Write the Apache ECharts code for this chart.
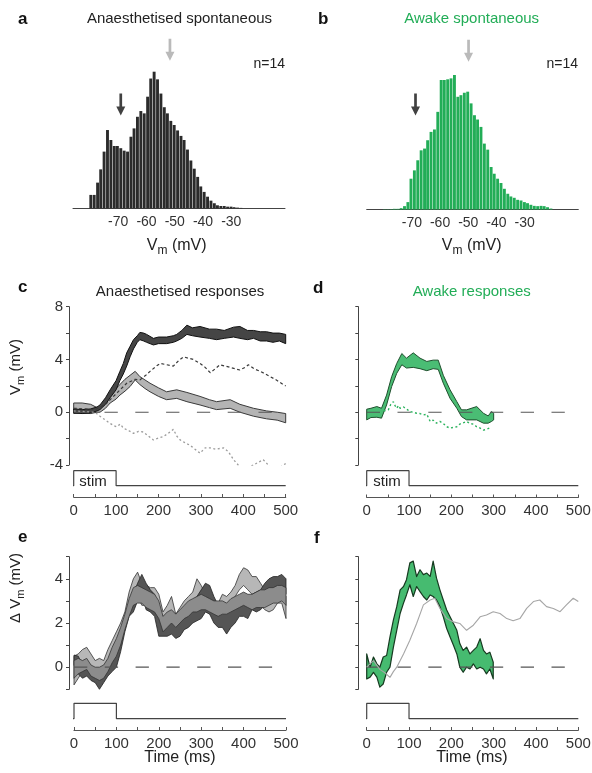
<!DOCTYPE html>
<html><head><meta charset="utf-8">
<script src="https://cdn.jsdelivr.net/npm/echarts@6/dist/echarts.min.js"></script>
<style>html,body{margin:0;padding:0;background:#fff}#c{width:592px;height:773px}</style>
</head><body><div id="c"></div>
<script>
// ---------- DATA ----------
const binsMV = [-79.7,-78.5,-77.3,-76.2,-75.0,-73.8,-72.6,-71.4,-70.3,-69.1,-67.9,-66.7,-65.5,-64.4,-63.2,-62.0,-60.8,-59.6,-58.5,-57.3,-56.1,-54.9,-53.7,-52.6,-51.4,-50.2,-49.0,-47.8,-46.7,-45.5,-44.3,-43.1,-41.9,-40.8,-39.6,-38.4,-37.2,-36.0,-34.9,-33.7,-32.5,-31.3,-30.1,-29.0,-27.8,-26.6,-25.4,-24.2,-23.1,-21.9,-20.7];
const histA = [9.8,9.8,18.8,28.5,41.5,57.3,50,45.6,45.6,44,42.2,41.5,52.4,58.5,67,71.2,69.5,81.7,95,100,94.4,84,74,69.5,64,61,57,53,50,43,35,29,23,16,12,8.5,5.6,3.7,2.2,1.7,1.7,1.2,1.2,0.8,0.5,0.3,0,0,0,0,0];
const histB = [0.2,0.2,0.3,0.5,0.5,1,2.5,5.5,22.9,29.1,36.6,44,45.3,51.5,57.7,59.5,72.6,96.3,96.3,96.8,97.5,100,83.8,85,86.8,87.6,78.9,70.1,66.9,61.4,49,44.5,31.6,26.6,22.9,19.7,15.4,11.7,9.7,8.7,7.2,6.7,5.5,4.7,3.5,2.7,2.5,2.7,2.5,1.7,0.7];
const hTicks = [-70,-60,-50,-40,-30];
const arrowsA = [-69.1, -51.7];   // black, grey
const arrowsB = [-68.7, -49.9];

const timeTicks = [0,100,200,300,400,500];
const stimT = [-17,0,0,100,100,500];
const stimV = [0,0,1,1,0,0];
const zeroT = [0,500];
const zeroV = [0,0];

// c: anaesthetised responses
const cDarkT  = [0,20,40,55,62,75,86,100,109,117,125,133,141,150,156,165,172,188,200,219,235,243,255,267,280,298,320,337,355,377,392,410,424,440,455,470,485,500];
const cDarkLo = [-0.05,-0.1,-0.05,0.1,0.2,0.6,1.1,1.7,2.4,2.9,3.5,4.2,4.8,5.3,5.5,5.4,5.3,5.1,5.2,5.2,5.3,5.4,5.6,5.9,5.8,5.7,5.6,5.5,5.6,5.7,5.6,5.5,5.6,5.4,5.4,5.3,5.4,5.2];
const cDarkUp = [0.25,0.2,0.25,0.4,0.55,1.1,1.7,2.4,3.1,3.7,4.5,5.0,5.5,5.8,6.05,6.0,5.9,5.6,5.7,5.7,5.8,5.9,6.2,6.6,6.4,6.5,6.3,6.3,6.2,6.45,6.5,6.2,6.2,6.1,6.1,6.0,6.0,5.9];
const cLightT  = [0,20,40,55,62,75,86,100,109,121,133,145,156,168,180,200,219,243,267,298,320,337,369,392,424,455,480,500];
const cLightLo = [-0.1,-0.05,-0.1,0,0,0.3,0.7,1.0,1.3,1.6,1.95,2.45,2.1,1.8,1.55,1.2,0.95,1.05,0.8,0.55,0.35,0.2,0.3,0,-0.3,-0.5,-0.6,-0.8];
const cLightUp = [0.7,0.7,0.6,0.35,0.3,0.8,1.3,1.8,2.1,2.5,2.8,3.1,2.7,2.45,2.2,1.85,1.55,1.7,1.5,1.2,0.95,0.8,0.95,0.6,0.3,0.1,0,-0.1];
const cDashT = [0,50,75,100,125,145,156,170,180,195,204,219,235,247,259,270,282,298,310,322,334,345,357,369,380,392,404,412,425,440,452,463,475,485,494,500];
const cDashV = [0.3,0.2,0.6,1.4,2.2,2.5,2.45,2.8,3.1,3.5,3.7,3.6,3.5,3.9,4.2,4.1,4.0,3.7,3.4,3.0,3.3,3.6,3.5,3.4,3.3,3.2,3.4,3.6,3.3,3.1,2.9,2.7,2.5,2.3,2.1,2.0];
const cDotT = [0,50,62,75,86,94,101,110,117,130,141,153,164,176,188,200,211,223,235,243,251,262,274,286,298,310,322,335,353,365,377,388,400,412,424,435,447,459,471,482,494,500];
const cDotV = [0.1,0,-0.3,-0.6,-0.85,-1,-1.1,-0.9,-1.2,-1.4,-1.6,-1.45,-1.5,-1.8,-2.1,-1.95,-1.85,-1.6,-1.3,-1.8,-2.1,-2.3,-2.5,-2.8,-3.1,-2.7,-2.7,-2.8,-2.7,-3.0,-3.6,-4.0,-4.4,-4.2,-4.0,-3.8,-3.6,-4.0,-4.4,-4.3,-4.0,-3.9];

// d: awake responses
const dT  = [0,10,24,35,47,59,71,83,94,110,126,142,157,169,181,197,213,224,236,260,276,287,295,300];
const dLo = [-0.58,-0.4,-0.38,-0.45,0.55,1.95,2.95,3.6,3.35,3.4,3.3,3.15,3.3,3.25,2.2,1.05,0.3,-0.33,-0.58,-0.58,-0.83,-0.83,-0.7,-0.58];
const dUp = [0.23,0.3,0.43,0.3,1.3,2.7,3.7,4.45,4.1,4.5,4.1,3.85,3.95,3.95,2.8,1.7,0.8,0.18,0.18,0.43,-0.08,-0.28,0.05,-0.08];
const dDotT = [40,51,57,63,67,71,75,79,87,91,96,102,110,118,126,134,142,150,157,165,173,181,189,197,205,213,220,228,236,244,252,260,268,276,283,290];
const dDotV = [0.1,0.18,0.6,0.8,0.5,0.3,0.5,0.3,0.4,0.55,0.2,0.05,0,-0.08,-0.1,-0.2,-0.15,-0.7,-0.6,-0.83,-0.7,-0.85,-1.1,-1.2,-1.15,-1.1,-0.9,-0.8,-0.7,-0.85,-0.9,-1.1,-1.2,-1.35,-1.3,-1.2];

// e: anaesthetised delta Vm (three bands)
const eT = [0,10,20,30,40,50,60,70,80,90,100,110,120,130,140,150,160,170,180,190,200,210,220,230,240,250,260,270,280,290,300,310,320,330,340,350,360,370,380,390,400,410,420,430,440,450,460,470,480,490,500];
const eDarkLo = [0.1,-0.3,-0.5,-0.4,-0.6,-0.7,-1.0,-0.7,-0.4,-0.2,0,0.7,1.6,2.3,2.5,3.0,3.3,2.6,2.5,2.3,1.4,1.4,1.4,1.5,1.3,1.4,1.7,1.8,2.0,2.1,2.2,2.5,2.4,2.0,1.8,1.8,1.5,1.8,2.0,2.3,2.3,2.2,2.6,2.5,2.6,2.8,2.9,3.0,3.1,3.2,3.3];
const eDarkUp = [0.55,0.5,0.1,0.1,0,-0.1,-0.3,0,0.1,0.4,0.8,1.5,2.1,2.9,3.3,3.8,4.2,3.8,3.5,3.3,2.6,2.3,2.2,2.2,2.0,2.2,2.5,2.7,3.0,3.2,3.5,3.8,3.7,3.2,2.8,2.7,2.6,2.9,3.0,3.0,3.2,2.9,3.3,3.4,3.5,3.8,4.0,4.1,4.1,4.2,4.0];
const eLightLo = [-0.8,-0.5,-0.2,0.2,-0.1,-0.4,-0.2,-0.3,0.1,0.5,0.8,1.2,1.8,2.5,3.0,3.2,2.8,2.8,2.6,2.6,2.4,1.8,2.3,2.4,1.6,2.0,2.4,2.5,2.7,3.0,2.8,2.7,2.4,2.3,2.3,2.6,2.7,2.9,3.2,3.5,3.7,3.5,3.3,3.2,2.8,2.6,2.5,2.6,2.9,2.9,2.2];
const eLightUp = [0.5,0.6,0.8,0.9,0.6,0.3,0.4,0.3,0.8,1.2,1.6,2.0,2.5,3.4,4.0,4.3,3.8,3.7,3.6,3.6,3.3,2.5,2.8,3.2,2.4,2.7,3.0,3.2,3.4,4.0,3.7,3.3,3.0,2.9,2.9,3.3,3.2,3.4,3.7,4.2,4.5,4.4,4.1,4.1,3.8,3.5,3.4,3.3,3.5,3.4,3.2];
const eMidLo = [-0.5,-0.3,-0.2,-0.1,-0.4,-0.5,-0.6,-0.5,-0.2,0.2,0.5,1.0,1.7,2.3,2.8,2.9,2.9,2.7,2.6,2.5,2.2,1.6,1.8,2.0,1.8,2.0,2.2,2.3,2.5,2.5,2.6,2.6,2.5,2.4,2.3,2.4,2.4,2.5,2.6,2.7,2.8,2.7,2.6,2.7,2.7,2.7,2.8,2.9,2.9,3.0,2.8];
const eMidUp = [0.3,0.4,0.3,0.4,0.1,0,0,0.1,0.4,0.9,1.3,1.8,2.4,3.1,3.6,3.7,3.6,3.5,3.4,3.3,3.0,2.3,2.5,2.6,2.4,2.6,2.8,3.0,3.1,3.2,3.3,3.2,3.1,3.0,3.0,3.0,2.9,3.1,3.2,3.3,3.4,3.3,3.3,3.4,3.5,3.5,3.6,3.6,3.7,3.7,3.6];

// f: awake delta Vm + anaesthetised mean
const fT  = [0,8,16,24,31,39,47,55,63,71,79,87,94,102,110,118,126,134,142,150,157,165,173,181,189,197,205,213,220,228,236,244,252,260,268,276,283,291,299];
const fLo = [-0.53,-0.45,-0.23,-0.45,-0.9,-0.76,-0.23,0,0.9,1.67,2.43,2.9,3.27,3.73,3.2,3.65,3.42,3.2,3.04,3.27,3.2,3.04,2.74,2.28,1.75,1.37,0.99,0.6,0,-0.23,0,-0.08,0.15,-0.08,0,-0.08,-0.3,-0.08,-0.53];
const fUp = [0.6,0,0.46,0.15,0,0.46,0.53,1.37,2.13,2.74,3.5,3.65,3.96,4.72,4.8,4.1,4.41,4.19,4.26,4.11,4.8,4.03,3.5,3.04,2.59,2.28,1.98,1.67,1.07,0.76,0.91,0.6,0.76,0.91,1.29,0.76,0.6,0.68,0.23];
const fGrayT = [0,16,31,43,55,63,71,87,102,118,134,150,161,173,189,205,220,236,252,268,283,299,315,331,346,362,378,394,409,425,441,457,472,488,500];
const fGrayV = [0,0.3,-0.1,-0.25,-0.46,-0.2,0,0.6,1.22,1.98,2.82,3.04,3.12,2.66,2.2,2.05,1.98,1.67,1.9,2.28,2.36,2.51,2.43,2.2,2.1,2.2,2.66,2.97,3.04,2.74,2.66,2.51,2.82,3.12,2.97];

// ---------- STYLE ----------
const FONT = '"Liberation Sans", Arial, Helvetica, sans-serif';
const GREEN = '#22ad57';
const AX = '#444';
const pair = (T, V) => T.map((t, i) => [t, V[i]]);

function grid(l, t, w, h) { return {left: l, top: t, width: w, height: h, outerBoundsMode: 'none', containLabel: false}; }
const grids = [
  grid(73, 71.7, 212, 136.6),     // 0 a
  grid(366.7, 75, 211.6, 134.5),  // 1 b
  grid(73.7, 306.7, 212, 158.3),  // 2 c
  grid(73.7, 470.7, 212, 15),     // 3 c stim
  grid(366.7, 306.7, 211.6, 158.3), // 4 d
  grid(366.7, 470.7, 211.6, 15),  // 5 d stim
  grid(74, 556.7, 212, 132.6),    // 6 e
  grid(74, 703.3, 212, 15.4),     // 7 e stim
  grid(366.7, 556.7, 211.6, 132.6), // 8 f
  grid(366.7, 703.3, 211.6, 15.4) // 9 f stim
];

function histX(gi) {
  return {type: 'value', gridIndex: gi, min: -86, max: -11, position: 'bottom',
    axisLine: {show: true, onZero: false, lineStyle: {color: AX, width: 1}},
    axisTick: {show: false}, splitLine: {show: false},
    axisLabel: {customValues: hTicks, fontSize: 14, color: '#333', fontFamily: FONT, margin: 7}};
}
function hiddenX(gi) { return {type: 'value', gridIndex: gi, min: 0, max: 500, show: false}; }
function timeX(gi, off) {
  return {type: 'value', gridIndex: gi, min: 0, max: 500, interval: 50, position: 'bottom', offset: off,
    axisLine: {show: true, onZero: false, lineStyle: {color: '#555', width: 1.2}},
    axisTick: {show: true, inside: true, length: 3, lineStyle: {color: '#555'}},
    splitLine: {show: false},
    axisLabel: {customValues: timeTicks, fontSize: 15, color: '#333', fontFamily: FONT, margin: 6}};
}
function vmY(gi, min, max, interval, labels, off) {
  return {type: 'value', gridIndex: gi, min: min, max: max, interval: interval, position: 'left', offset: off,
    axisLine: {show: true, onZero: false, lineStyle: {color: AX, width: 1}},
    axisTick: {show: true, length: 3, lineStyle: {color: AX}},
    splitLine: {show: false},
    axisLabel: labels ? {customValues: labels, fontSize: 15, color: '#333', fontFamily: FONT, margin: 6} : {show: false}};
}
function hiddenY(gi, min, max) { return {type: 'value', gridIndex: gi, min: min, max: max, show: false}; }

const xAxes = [histX(0), histX(1), hiddenX(2), timeX(3, 11.3), hiddenX(4), timeX(5, 11.8), hiddenX(6), timeX(7, 11.3), hiddenX(8), timeX(9, 11.3)];
const yAxes = [hiddenY(0, 0, 100), hiddenY(1, 0, 100),
  vmY(2, -4, 8, 2, [-4, 0, 4, 8], 4.7), hiddenY(3, 0, 1),
  vmY(4, -4, 8, 2, null, 8.4), hiddenY(5, 0, 1),
  vmY(6, -1, 5, 1, [0, 2, 4], 5), hiddenY(7, 0, 1),
  vmY(8, -1, 5, 1, null, 8.4), hiddenY(9, 0, 1)];

function band(ai, T, LO, UP, fill, stroke, lw) {
  return {type: 'custom', xAxisIndex: ai, yAxisIndex: ai, data: [[T[0], LO[0]]], silent: true, clip: false,
    renderItem: function (params, api) {
      const pts = [];
      for (let i = 0; i < T.length; i++) pts.push(api.coord([T[i], UP[i]]));
      for (let i = T.length - 1; i >= 0; i--) pts.push(api.coord([T[i], LO[i]]));
      return {type: 'polygon', shape: {points: pts}, style: {fill: fill, stroke: stroke, lineWidth: lw || 1, lineJoin: 'round'}};
    }};
}
function line(ai, T, V, color, width, dash, clip) {
  return {type: 'line', xAxisIndex: ai, yAxisIndex: ai, data: pair(T, V), symbol: 'none', silent: true,
    clip: clip !== false, animation: false,
    lineStyle: {color: color, width: width, type: dash || 'solid'}};
}
const ZERO_DASH = [13.3, 17.5];
function zero(ai) { return line(ai, zeroT, zeroV, '#555', 1.2, ZERO_DASH); }
function stim(ai) { return line(ai, stimT, stimV, '#444', 1.2, 'solid', false); }
function bars(ai, H, color) {
  return {type: 'bar', xAxisIndex: ai, yAxisIndex: ai, data: pair(binsMV, H), barWidth: 2.9,
    itemStyle: {color: color}, silent: true, animation: false};
}
const ARROW = 'path://M2.8,0 L5.2,0 L5.2,13 L8,13 L4,22 L0,13 L2.8,13 Z';
function arrows(ai, xs, ys, colors) {
  return {type: 'scatter', xAxisIndex: ai, yAxisIndex: ai, clip: false, silent: true,
    symbol: ARROW, symbolSize: [9, 22],
    data: xs.map((x, i) => ({value: [x, ys[i]], itemStyle: {color: colors[i]}}))};
}

const series = [
  bars(0, histA, '#2b2b2b'),
  arrows(0, arrowsA, [76, 116], ['#111', '#a9a9a9']),
  bars(1, histB, GREEN),
  arrows(1, arrowsB, [78, 118], ['#111', '#a9a9a9']),
  // c
  zero(2),
  line(2, cDotT, cDotV, '#9c9c9c', 1.3, [2, 2.5]),
  band(2, cLightT, cLightLo, cLightUp, '#b4b4b4', '#3a3a3a', 1),
  band(2, cDarkT, cDarkLo, cDarkUp, '#454545', '#111', 1),
  line(2, cDashT, cDashV, '#3a3a3a', 1.2, [3, 2.5]),
  stim(3),
  // d
  zero(4),
  band(4, dT, dLo, dUp, '#4abd74', '#1f4f2d', 1),
  line(4, dDotT, dDotV, '#2bb35d', 1.4, [2, 2.5]),
  stim(5),
  // e
  zero(6),
  band(6, eT, eLightLo, eLightUp, '#b7b7b7', '#333', 0.8),
  band(6, eT, eDarkLo, eDarkUp, '#555', '#222', 0.8),
  band(6, eT, eMidLo, eMidUp, '#8c8c8c', '#333', 0.8),
  stim(7),
  // f
  zero(8),
  line(8, fGrayT, fGrayV, '#a6a6a6', 1.1),
  band(8, fT, fLo, fUp, '#46bb70', '#163a20', 1.2),
  stim(9)
];

function txt(x, y, text, size, color, align, bold, extra) {
  return Object.assign({type: 'text', x: x, y: y, silent: true,
    style: {text: text, fill: color || '#111', font: (bold ? 'bold ' : '') + size + 'px ' + FONT,
      align: align || 'center', verticalAlign: 'middle'}}, extra || {});
}
function vmText(x, y, prefix, size, rot) {
  return {type: 'text', x: x, y: y, rotation: rot || 0, silent: true,
    style: {text: prefix + '{v|V}{s|m}{v| (mV)}', align: 'center', verticalAlign: 'middle', fill: '#222',
      rich: {v: {fontSize: size, fontFamily: FONT, lineHeight: size + 2, verticalAlign: 'top', fill: '#222'},
             p: {fontSize: size, fontFamily: FONT, lineHeight: size + 2, verticalAlign: 'top', fill: '#222'},
             s: {fontSize: size - 4, fontFamily: FONT, lineHeight: size - 2, padding: [7, 0, 0, 0], verticalAlign: 'top', fill: '#222'}}}};
}

const graphic = [
  txt(18, 19, 'a', 17, '#111', 'left', true),
  txt(318, 19, 'b', 17, '#111', 'left', true),
  txt(18, 287, 'c', 17, '#111', 'left', true),
  txt(313, 288, 'd', 17, '#111', 'left', true),
  txt(18, 537, 'e', 17, '#111', 'left', true),
  txt(314, 538, 'f', 17, '#111', 'left', true),
  txt(179.5, 19, 'Anaesthetised spontaneous', 15, '#222'),
  txt(471.7, 19, 'Awake spontaneous', 15, GREEN),
  txt(180, 291.7, 'Anaesthetised responses', 15, '#222'),
  txt(471.7, 291.5, 'Awake responses', 15, GREEN),
  txt(285, 64.3, 'n=14', 14, '#222', 'right'),
  txt(578, 64.3, 'n=14', 14, '#222', 'right'),
  vmText(176.7, 246.7, '', 16),
  vmText(471.7, 246.7, '', 16),
  vmText(17, 367, '', 15, Math.PI / 2),
  vmText(17, 588, '{p|Δ }', 15, Math.PI / 2),
  txt(93, 481.5, 'stim', 15, '#222'),
  txt(387, 481.5, 'stim', 15, '#222'),
  txt(180, 758, 'Time (ms)', 16, '#222'),
  txt(472, 758, 'Time (ms)', 16, '#222')
];

const chart = echarts.init(document.getElementById('c'), null, {renderer: 'canvas'});
chart.setOption({animation: false, backgroundColor: '#fff', grid: grids, xAxis: xAxes, yAxis: yAxes, series: series, graphic: graphic});
</script></body></html>
